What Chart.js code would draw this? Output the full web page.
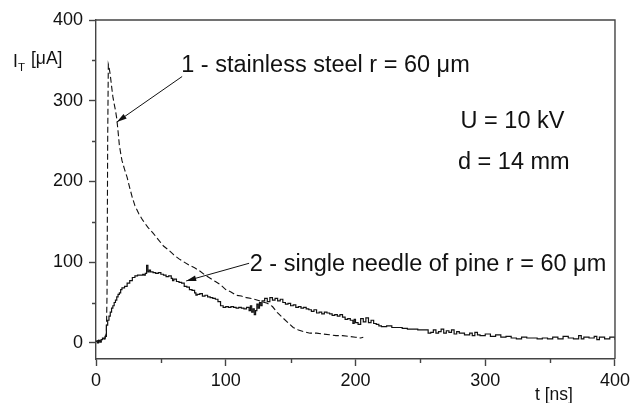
<!DOCTYPE html>
<html><head><meta charset="utf-8">
<script src="https://cdn.jsdelivr.net/npm/chart.js@4.4.0/dist/chart.umd.min.js"></script>
<style>html,body{margin:0;padding:0;background:#fff;} canvas{display:block;}</style>
</head><body>
<canvas id="c" width="634" height="403"></canvas>
<script>
// Series 1: stainless steel (dashed)
const tSteel = [0,2,4,6,7,8,8.5,9,9.5,10,11,12,13,14,15,16,17,18,19,20,22,24,26,28,30,33,36,40,44,48,52,56,60,64,68,72,76,80,84,88,92,96,100,104,108,112,116,120,124,128,132,136,140,144,148,152,156,160,165,170,175,180,185,190,195,200,204,206];
const iSteel = [2,3,2,4,6,12,60,250,345,342,332,318,305,296,288,278,262,245,235,226,215,205,192,180,170,160,152,143,136,128,120,115,109,104,100,96,93,89,84,80,76,72,66,63,59,58,56,55,53,51,49,45,37,31,25,19,16,14,12,12,11,10,9,9,8,7,6,7];
// Series 2: single needle of pine (solid)
const tPine = [0,1,2,3,4,5,6,7,8,9,10,11,12,13,14,15,16,17,18,19,20,22,24,26,28,30,32,34,36,37,38,39,40,41,42,44,46,48,50,52,54,56,58,59,60,62,64,66,68,70,72,74,76,77,78,80,82,84,86,88,90,92,94,96,98,100,102,104,106,108,110,112,114,116,118,119,120,121,122,123,124,125,126,127,128,130,132,134,136,138,140,142,144,146,148,150,152,154,156,158,160,162,164,166,168,170,172,174,176,178,180,182,184,186,188,190,192,194,196,198,199,200,202,204,206,208,210,212,214,216,218,220,224,228,232,236,240,244,248,252,256,258,260,262,264,266,268,270,272,274,276,278,280,284,288,290,292,294,296,300,304,308,312,316,320,324,328,332,336,340,344,348,352,356,360,364,368,372,374,376,380,384,386,388,392,396,400];
const iPine = [2,0,3,1,4,6,5,8,22,28,33,38,43,46,50,53,57,60,62,66,68,70,74,77,81,83,84,84,85,84,86,96,88,90,88,87,86,87,85,84,82,83,80,77,79,76,75,74,70,69,66,65,62,59,60,61,58,59,57,56,55,54,51,46,44,45,44,45,44,43,44,43,42,44,40,46,38,42,35,40,48,43,50,46,52,55,51,56,53,55,52,54,50,48,49,46,47,44,45,43,44,42,41,39,41,37,38,36,38,37,36,34,35,33,35,32,29,30,28,24,29,25,23,30,26,31,25,28,24,23,21,20,21,19,19,18,17,17,16,16,12,13,16,12,14,17,12,15,13,16,11,14,12,10,12,9,13,10,9,11,8,10,7,8,6,5,7,6,6,5,6,5,7,5,8,6,5,9,5,7,6,8,4,7,5,7,4];
const xTicks = [0,100,200,300,400];
const yTicks = [0,100,200,300,400];
const xMinor = [50,150,250,350];
const yMinor = [50,150,250,350];
const label1 = '1 - stainless steel r = 60 \u03bcm';
const label2 = '2 - single needle of pine r = 60 \u03bcm';
const labelU = 'U = 10 kV';
const labelD = 'd = 14 mm';

const FONT = "'Liberation Sans', Arial, sans-serif";
const AX = '#444';

const notes = {
  texts: [
    {t: label1, x: 65.7, y: 335},
    {t: labelU, x: 281, y: 266},
    {t: labelD, x: 279, y: 216},
    {t: label2, x: 118.5, y: 89.5}
  ],
  arrows: [
    {x0: 66.4, y0: 330, x1: 16.1, y1: 273.7},
    {x0: 118, y0: 98.6, x1: 69.5, y1: 76.7}
  ]
};

const decor = {
  id: 'decor',
  afterDraw(chart) {
    const c = chart.ctx, a = chart.chartArea;
    const xs = chart.scales.x, ys = chart.scales.y;
    c.save();
    c.strokeStyle = AX; c.lineWidth = 1.4;
    c.beginPath();
    c.moveTo(a.left, a.top); c.lineTo(a.right, a.top); c.lineTo(a.right, a.bottom);
    c.stroke();
    // minor ticks
    c.beginPath();
    xMinor.forEach(v => { const p = Math.round(xs.getPixelForValue(v)) + 0.5; c.moveTo(p, a.bottom); c.lineTo(p, a.bottom + 4); });
    yMinor.forEach(v => { const p = Math.round(ys.getPixelForValue(v)) + 0.5; c.moveTo(a.left, p); c.lineTo(a.left - 4, p); });
    c.stroke();
    // annotation texts
    c.fillStyle = '#111';
    c.font = '23.5px ' + FONT;
    c.textBaseline = 'alphabetic'; c.textAlign = 'left';
    notes.texts.forEach(o => c.fillText(o.t, xs.getPixelForValue(o.x), ys.getPixelForValue(o.y)));
    // arrows
    c.strokeStyle = '#111'; c.lineWidth = 1;
    notes.arrows.forEach(o => {
      const x0 = xs.getPixelForValue(o.x0), y0 = ys.getPixelForValue(o.y0);
      const x1 = xs.getPixelForValue(o.x1), y1 = ys.getPixelForValue(o.y1);
      const ang = Math.atan2(y1 - y0, x1 - x0);
      c.beginPath(); c.moveTo(x0, y0); c.lineTo(x1, y1); c.stroke();
      const L = 10, W = 2.8;
      c.beginPath();
      c.moveTo(x1, y1);
      c.lineTo(x1 - L * Math.cos(ang) + W * Math.sin(ang), y1 - L * Math.sin(ang) - W * Math.cos(ang));
      c.lineTo(x1 - L * Math.cos(ang) - W * Math.sin(ang), y1 - L * Math.sin(ang) + W * Math.cos(ang));
      c.closePath(); c.fill();
    });
    // axis titles
    c.font = '17.5px ' + FONT;
    c.fillText('I', 13, 67);
    c.font = '11.5px ' + FONT;
    c.fillText('T', 18, 71);
    c.font = '17.5px ' + FONT;
    c.fillText('[\u03bcA]', 31, 64);
    c.fillText('t [ns]', 535, 400);
    c.restore();
  }
};

new Chart(document.getElementById('c'), {
  type: 'line',
  data: {
    datasets: [
      {data: tSteel.map((t, i) => ({x: t, y: iSteel[i]})), borderColor: '#111', borderWidth: 1.1, borderDash: [6, 3], pointRadius: 0, tension: 0, fill: false},
      {data: tPine.map((t, i) => ({x: t, y: iPine[i]})), borderColor: '#111', borderWidth: 1.2, stepped: true, pointRadius: 0, tension: 0, fill: false}
    ]
  },
  options: {
    responsive: false, animation: false, devicePixelRatio: 1,
    layout: {padding: {left: 0, right: 16, top: 20, bottom: 0}},
    plugins: {legend: {display: false}, tooltip: {enabled: false}},
    scales: {
      x: {
        type: 'linear', min: 0, max: 400,
        afterFit(s) { s.height = 44; },
        afterBuildTicks(s) { s.ticks = xTicks.map(v => ({value: v})); },
        grid: {drawOnChartArea: false, drawTicks: true, tickLength: 7, color: AX, tickWidth: 1.4},
        border: {color: AX, width: 1.4},
        ticks: {font: {family: FONT, size: 18}, color: '#111', padding: 4, maxRotation: 0}
      },
      y: {
        type: 'linear', min: -20, max: 400,
        afterFit(s) { s.width = 96; },
        afterBuildTicks(s) { s.ticks = yTicks.map(v => ({value: v})); },
        grid: {drawOnChartArea: false, drawTicks: true, tickLength: 7, color: AX, tickWidth: 1.4},
        border: {color: AX, width: 1.4},
        ticks: {font: {family: FONT, size: 18}, color: '#111', padding: 6}
      }
    }
  },
  plugins: [decor]
});
</script>
</body></html>
